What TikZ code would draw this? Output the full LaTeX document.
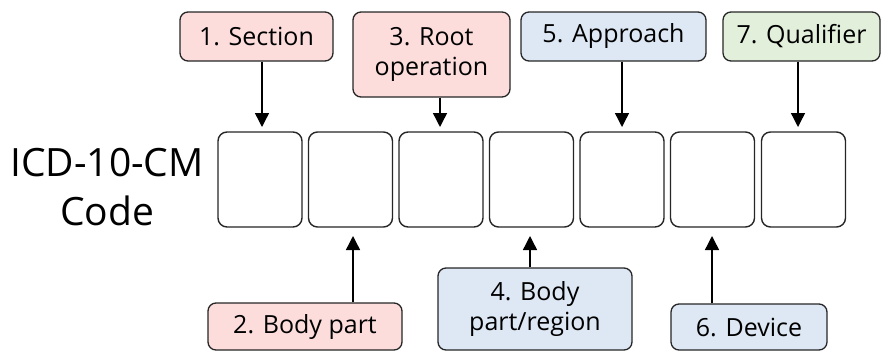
\documentclass[tikz,border=0pt]{standalone}
\usepackage{fontspec}
\setmainfont{Open Sans}
\usetikzlibrary{arrows.meta}
\definecolor{pinkf}{HTML}{FCDDDC}
\definecolor{bluef}{HTML}{DDE8F4}
\definecolor{greenf}{HTML}{E2EFDA}
\definecolor{edge}{HTML}{262626}
\tikzset{
  codebox/.style={draw=edge, line width=1.4pt, rounded corners=9pt, fill=white, minimum width=84pt, minimum height=95pt, inner sep=0pt},
  lab/.style={draw=edge, line width=1.3pt, rounded corners=8pt, inner sep=0pt, align=center, font=\fontsize{25}{30}\selectfont},
  arr/.style={line width=1.4pt, draw=black, -{Triangle[width=14pt,length=14pt]}}
}
\begin{document}
\begin{tikzpicture}[x=1pt,y=-1pt]
\useasboundingbox (0,0) rectangle (882,351);
% code boxes
\foreach \i/\cx in {1/260,2/350.5,3/441,4/531.5,5/622,6/712.5,7/803.5}{
  \node[codebox] (c\i) at (\cx,179.5) {};
}
\node[align=center, font=\fontsize{39}{49}\selectfont] (title) at (107,187) {ICD-10-CM\\Code};
% top labels
\node[lab, fill=pinkf, minimum width=153pt, minimum height=49pt] (l1) at (256.5,36.5) {1. Section};
\node[lab, fill=pinkf, minimum width=157pt, minimum height=85pt] (l3) at (431.5,54.5) {3. Root\\operation};
\node[lab, fill=bluef, minimum width=185pt, minimum height=49pt] (l5) at (613.5,36.5) {5. Approach};
\node[lab, fill=greenf, minimum width=157pt, minimum height=49pt] (l7) at (801.5,36.5) {7. Qualifier};
% bottom labels
\node[lab, fill=pinkf, minimum width=194pt, minimum height=47pt] (l2) at (305,326.5) {2. Body part};
\node[lab, fill=bluef, minimum width=194pt, minimum height=82pt] (l4) at (535,309) {4. Body\\part/region};
\node[lab, fill=bluef, minimum width=156pt, minimum height=46pt] (l6) at (749,327) {6. Device};
% arrows
\coordinate (t1) at (262,127);
\coordinate (t3) at (440,127);
\coordinate (t5) at (622,127);
\coordinate (t7) at (798,127);
\coordinate (b2) at (353,236);
\coordinate (b4) at (530,236);
\coordinate (b6) at (712,236);
\draw[arr] (l1.south -| t1) -- (t1);
\draw[arr] (l3.south -| t3) -- (t3);
\draw[arr] (l5.south -| t5) -- (t5);
\draw[arr] (l7.south -| t7) -- (t7);
\draw[arr] (l2.north -| b2) -- (b2);
\draw[arr] (l4.north -| b4) -- (b4);
\draw[arr] (l6.north -| b6) -- (b6);
\end{tikzpicture}
\end{document}
